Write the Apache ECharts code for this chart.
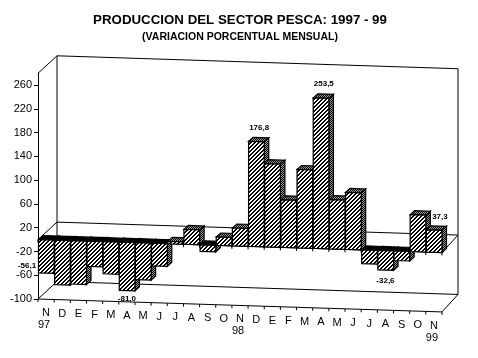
<!DOCTYPE html>
<html><head><meta charset="utf-8">
<style>html,body{margin:0;padding:0;background:#fff}#c{width:478px;height:358px}</style>
<script src="https://cdn.jsdelivr.net/npm/echarts@6/dist/echarts.min.js"></script>
</head><body><div id="c"></div>
<script>
const months = ['N','D','E','F','M','A','M','J','J','A','S','O','N','D','E','F','M','A','M','J','J','A','S','O','N'];
const years = {0:'97',12:'98',24:'99'};
const values = [-56.1,-75,-73,-42.5,-54,-81.0,-62,-38,4,25,-11,14,30,176.8,140,80,132,253.5,83,96,-23,-32.6,-16,62,37.3];
const valueLabels = {0:'-56,1',5:'-81,0',13:'176,8',17:'253,5',21:'-32,6',24:'37,3'};
const yTicks = [-100,-60,-20,20,60,100,140,180,220,260];
const YMIN=-100, YMAX=280;
const SHEAR=0.032, BAR_DX=4.5, BAR_DY=4;

function tile(fn,n){const c=document.createElement('canvas');c.width=c.height=n;const g=c.getContext('2d');
  for(let y=0;y<n;y++)for(let x=0;x<n;x++){g.fillStyle=fn(x,y);g.fillRect(x,y,1,1);}return c;}
const hatch={type:'pattern',repeat:'repeat',image:tile((x,y)=>((x+y)%4<2?'#000':'#fff'),4)};
const dark={type:'pattern',repeat:'repeat',image:tile((x,y)=>((x+y)%2==0?'#000':'#999'),2)};

const chart=echarts.init(document.getElementById('c'),null,{renderer:'canvas'});
const LEFT=38,WIDTH=404;
function mk(api,cat,v,dx,dy){
  const p=api.coord([0,v]);const w=api.size([1,0])[0];
  const x=LEFT+cat*w;
  return [x+dx,p[1]+SHEAR*(x-LEFT)-dy];
}
function line(a,b,w){return {type:'line',shape:{x1:a[0],y1:a[1],x2:b[0],y2:b[1]},style:{stroke:'#000',lineWidth:w||1}};}
function poly(pts,fill){return {type:'polygon',shape:{points:pts},style:{fill:fill,stroke:'#000',lineWidth:1.2}};}
function back(c){return [19-3*c/25,17.5];}
const option={
  animation:false,
  title:[
    {text:'PRODUCCION DEL SECTOR PESCA: 1997 - 99',left:235,top:9,textAlign:'center',textStyle:{fontFamily:'Liberation Sans',fontSize:13.3,fontWeight:'bold',color:'#000'}},
    {text:'(VARIACION PORCENTUAL MENSUAL)',left:235,top:27,textAlign:'center',textStyle:{fontFamily:'Liberation Sans',fontSize:10.5,fontWeight:'bold',color:'#000'}}
  ],
  grid:{left:LEFT,width:WIDTH,top:73.3,height:225.7},
  xAxis:{type:'category',data:months,show:false},
  yAxis:{type:'value',min:YMIN,max:YMAX,splitLine:{show:false},
    axisLine:{show:true,lineStyle:{color:'#000'}},
    axisTick:{show:true,length:4,lineStyle:{color:'#000'},customValues:yTicks},
    axisLabel:{color:'#000',fontFamily:'Liberation Sans',fontSize:11,margin:6,padding:[2,0,0,0],customValues:yTicks}},
  series:[
    {type:'custom',silent:true,z:1,clip:false,data:[[0,0]],encode:{x:0,y:1},renderItem(p,api){
      const ch=[];
      const F=(c,v)=>mk(api,c,v,0,0);
      const B=(c,v)=>{const b=back(c);return mk(api,c,v,b[0],b[1]);};
      [YMIN,0,YMAX].forEach(v=>{ch.push(line(F(0,v),B(0,v)));ch.push(line(B(0,v),B(25,v)));});
      ch.push(line(F(25,YMIN),B(25,YMIN)));
      ch.push(line(F(25,0),B(25,0)));
      ch.push(line(B(0,YMIN),B(0,YMAX)));
      ch.push(line(B(25,YMIN),B(25,YMAX)));
      ch.push(line(F(0,YMIN),F(25,YMIN)));
      ch.push(line(F(0,0),F(25,0)));
      for(let i=0;i<=25;i++){
        const a=F(i,YMIN);ch.push(line(a,[a[0],a[1]+3]));
        const z=F(i,0);ch.push(line(z,[z[0],z[1]+3]));
      }
      return {type:'group',children:ch};
    }},
    {type:'custom',silent:true,z:3,clip:false,data:values.map((v,i)=>[i,v]),encode:{x:0,y:1},renderItem(p,api){
      const i=api.value(0),v=api.value(1);
      const a=(c,val,d)=>mk(api,c,val,d?BAR_DX:0,d?BAR_DY:0);
      const l=i+0.03,r=i+1;
      const ch=[];
      ch.push(poly([a(r,0),a(r,0,1),a(r,v,1),a(r,v)],dark));
      const hi=Math.max(v,0);
      ch.push(poly([a(l,hi),a(l,hi,1),a(r,hi,1),a(r,hi)],v<0?'#000':dark));
      ch.push(poly([a(l,0),a(r,0),a(r,v),a(l,v)],hatch));
      return {type:'group',children:ch};
    }},
    {type:'custom',silent:true,z:5,clip:false,data:months.map((m,i)=>[i,YMIN]),encode:{x:0,y:1},renderItem(p,api){
      const i=p.dataIndex;
      const t=mk(api,i+0.5,YMIN,0,0);
      const ch=[{type:'text',style:{text:months[i],x:t[0],y:t[1]+14,align:'center',verticalAlign:'middle',fill:'#000',font:'11px "Liberation Sans"'}}];
      if(years[i]) ch.push({type:'text',style:{text:years[i],x:t[0]-2,y:t[1]+26,align:'center',verticalAlign:'middle',fill:'#000',font:'11px "Liberation Sans"'}});
      return {type:'group',children:ch};
    }},
    {type:'custom',silent:true,z:6,clip:false,data:Object.keys(valueLabels).map(k=>[+k,values[+k]]),encode:{x:0,y:1},renderItem(p,api){
      const i=Object.keys(valueLabels).map(Number)[p.dataIndex],v=values[i];
      const t=mk(api,i+0.5,v,0,0);
      let x=t[0],y=v<0?t[1]+8:t[1]-14;
      if(v>0) x+=3;
      if(i===0){x=27;y=t[1]-7;}
      if(i===21){y=t[1]+11;}
      if(i===24){x=t[0]+6;y=t[1]-13;}
      return {type:'text',style:{text:valueLabels[i],x:x,y:y,align:'center',verticalAlign:'middle',fill:'#000',font:'bold 8px "Liberation Sans"'}};
    }}
  ]
};
chart.setOption(option);
</script></body></html>
